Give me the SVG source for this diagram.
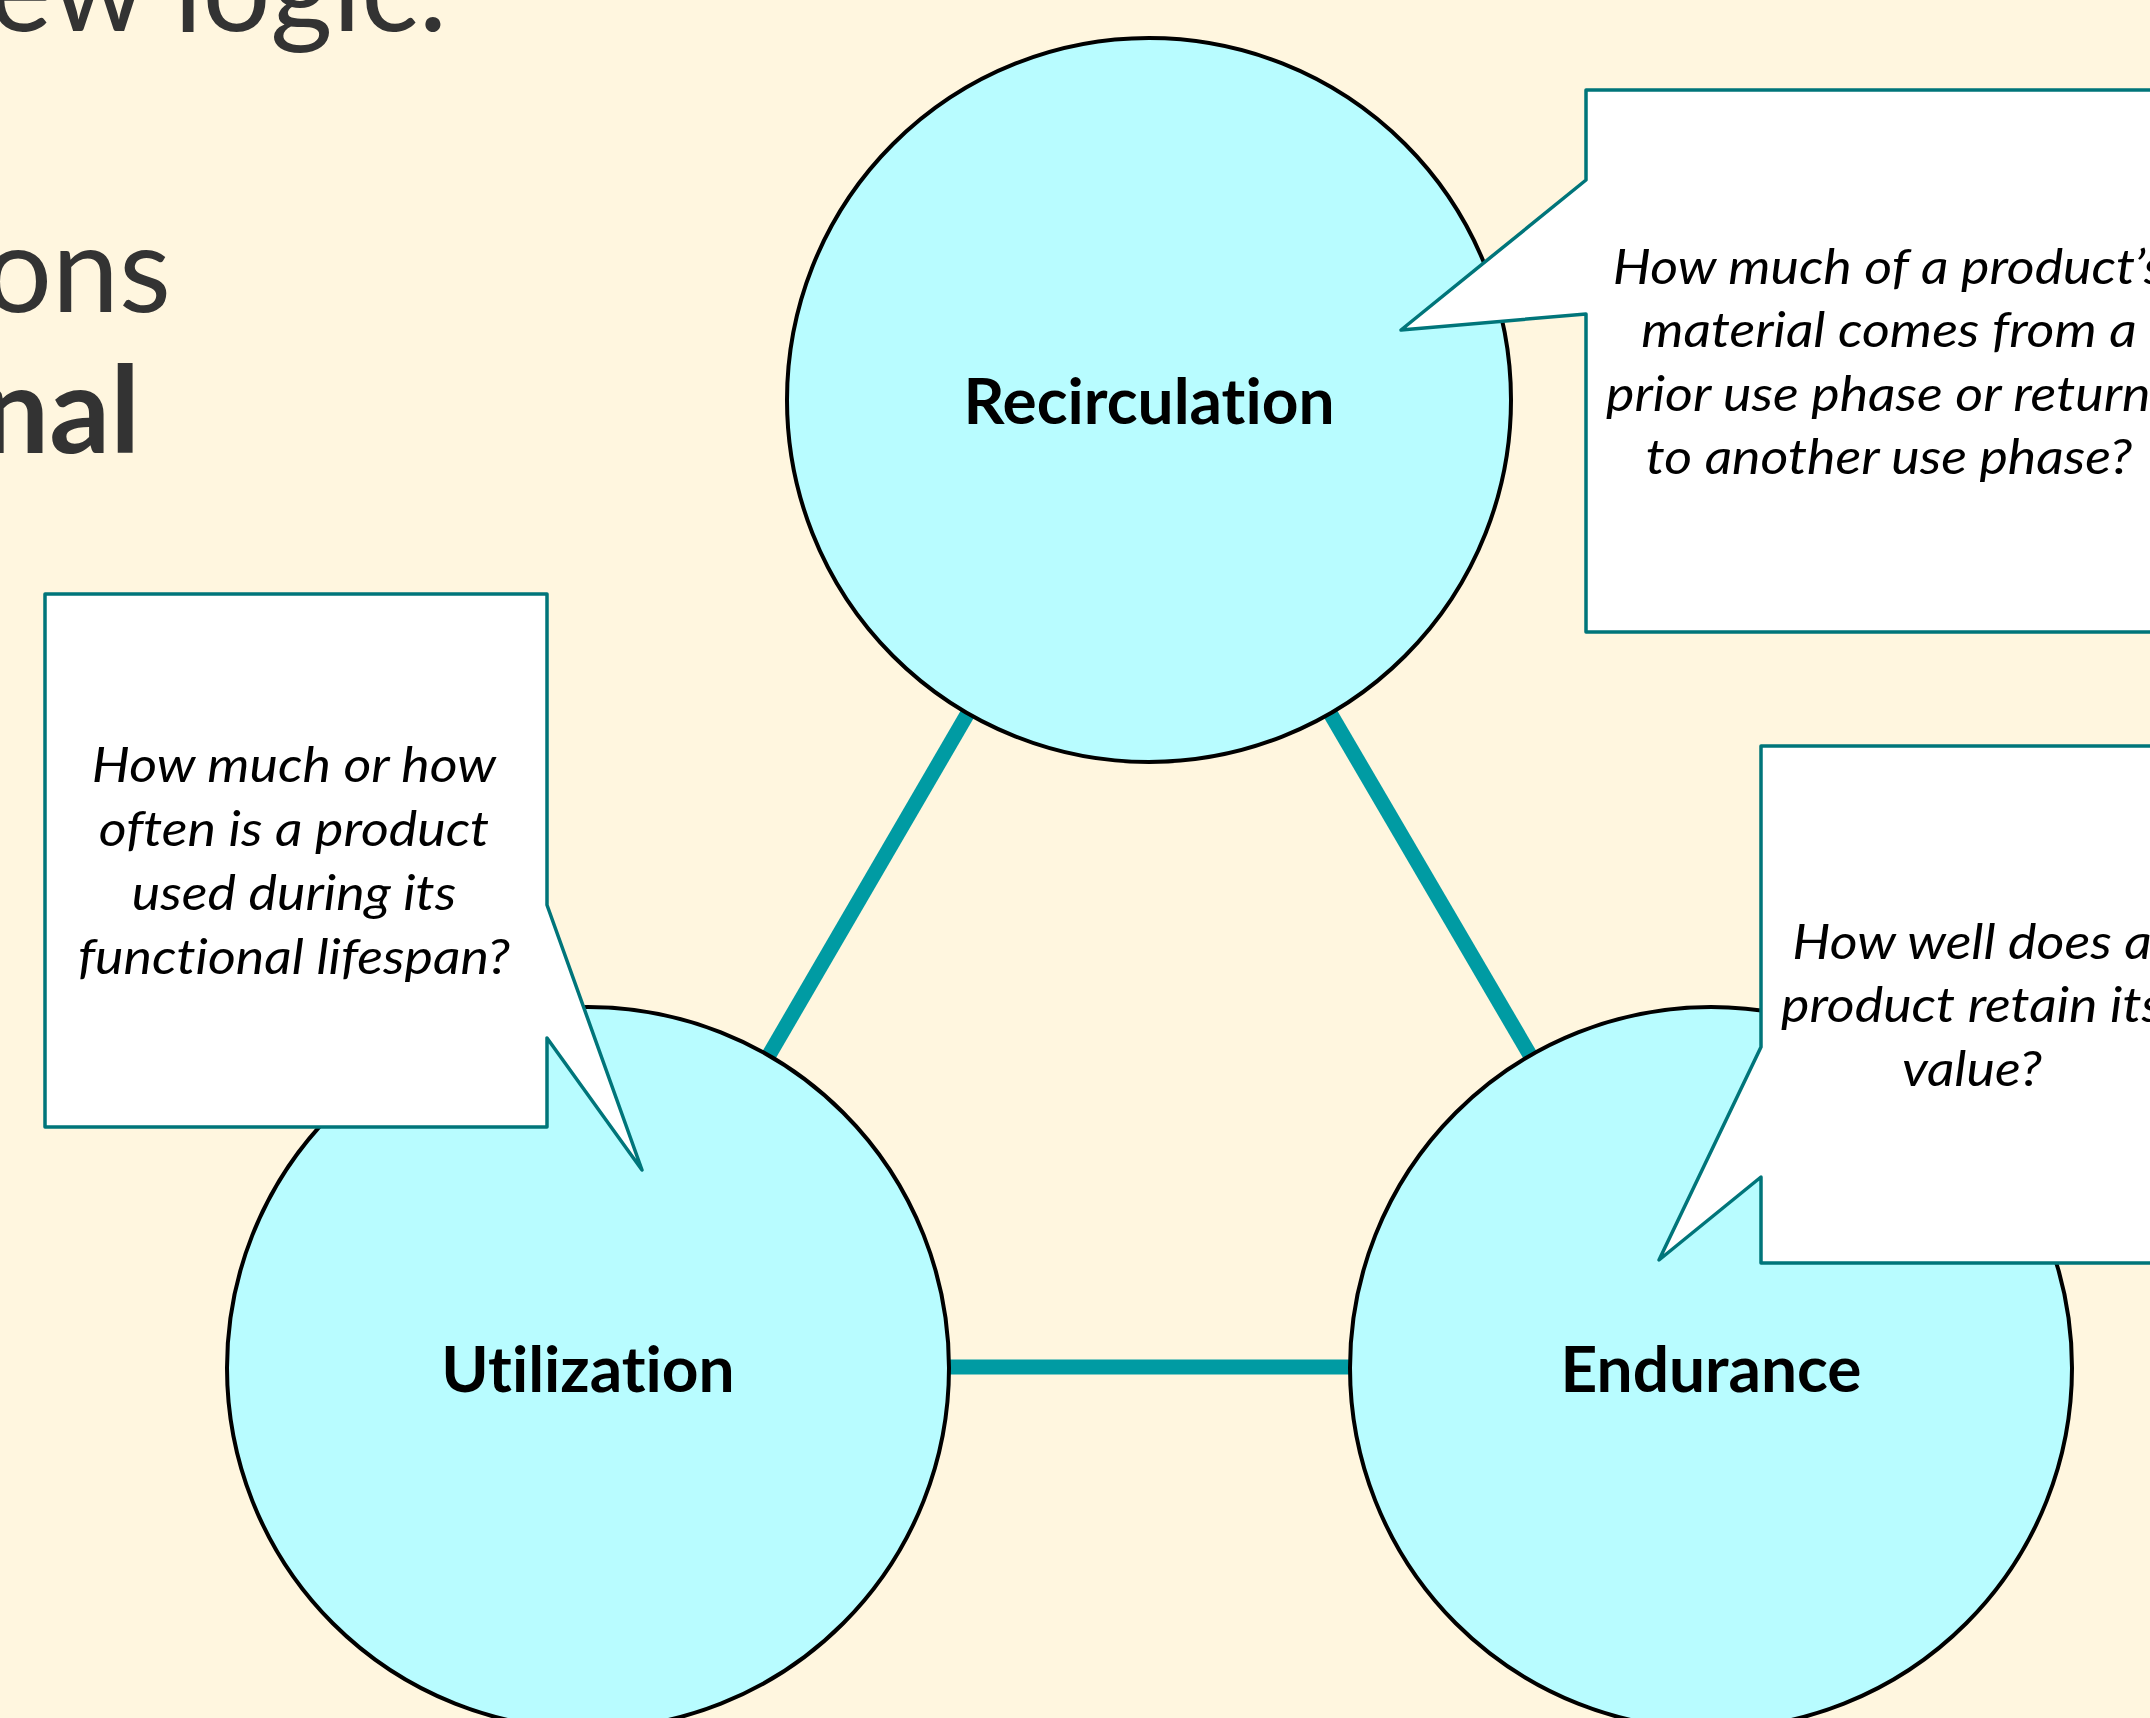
<svg xmlns="http://www.w3.org/2000/svg" width="2150" height="1718" viewBox="0 0 2150 1718">
<style>
text{font-variant-ligatures:none;font-feature-settings:"liga" 0,"dlig" 0}
.bg{fill:#FFF6DF}
.circ{fill:#B8FCFF;stroke:#000;stroke-width:4}
.lbl{font-family:Lato,"Liberation Sans",sans-serif;font-weight:bold;font-size:64px;fill:#000;text-anchor:middle}
.call{fill:#FFF;stroke:#00757A;stroke-width:3.5;stroke-linejoin:round}
.q{font-family:Lato,"Liberation Sans",sans-serif;font-style:italic;font-size:48px;fill:#000;text-anchor:middle}
.head{font-family:Lato,"Liberation Sans",sans-serif;font-size:120px;fill:#333;text-anchor:end}
.conn{stroke:#009BA3;stroke-width:15;fill:none}
</style>
<rect class="bg" x="0" y="0" width="2150" height="1718"/>
<g id="heading">
<text class="head" x="447" y="31">ew logic.</text>
<text class="head" x="171" y="312">ons</text>
<text class="head" x="140" y="453" font-weight="bold">nal</text>
</g>
<g id="connectors">
<line class="conn" x1="968" y1="713" x2="769" y2="1055"/>
<line class="conn" x1="1330" y1="713" x2="1530" y2="1055"/>
<line class="conn" x1="949" y1="1367" x2="1350" y2="1367"/>
</g>
<g id="recirculation">
<circle class="circ" cx="1149" cy="400" r="362"/>
<text class="lbl" x="1149" y="424">Recirculation</text>
</g>
<g id="utilization">
<circle class="circ" cx="588" cy="1368" r="361"/>
<text class="lbl" x="588" y="1392">Utilization</text>
</g>
<g id="endurance">
<circle class="circ" cx="1711" cy="1368" r="361"/>
<text class="lbl" x="1711" y="1392">Endurance</text>
</g>
<g id="callout-utilization">
<path class="call" d="M45,594 H547 V905 L642,1170 L547,1038 V1127 H45 Z"/>
<g transform="translate(294 0) scale(1.12 1)">
<text class="q" x="0" y="782">How much or how</text>
<text class="q" x="0" y="846">often is a product</text>
<text class="q" x="0" y="910">used during its</text>
<text class="q" x="0" y="974">functional lifespan?</text>
</g>
</g>
<g id="callout-recirculation">
<path class="call" d="M1586,90 H2200 V632 H1586 V314 L1401,330 L1586,180 Z"/>
<g transform="translate(1889 0) scale(1.12 1)">
<text class="q" x="0" y="284">How much of a product’s</text>
<text class="q" x="0" y="347">material comes from a</text>
<text class="q" x="0" y="411">prior use phase or returns</text>
<text class="q" x="0" y="474">to another use phase?</text>
</g>
</g>
<g id="callout-endurance">
<path class="call" d="M1761,746 H2200 V1263 H1761 V1177 L1659,1260 L1761,1047 Z"/>
<g transform="translate(1972 0) scale(1.12 1)">
<text class="q" x="0" y="959">How well does a</text>
<text class="q" x="0" y="1022">product retain its</text>
<text class="q" x="0" y="1086">value?</text>
</g>
</g>
</svg>
